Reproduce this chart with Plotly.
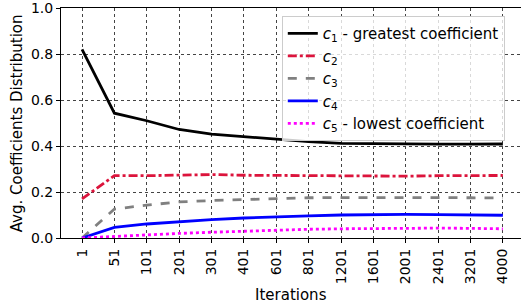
import plotly.graph_objects as go

iterations = ["1", "51", "101", "201", "301", "401", "601", "801", "1201", "1601", "2001", "2401", "3201", "4000"]
c1 = [0.82, 0.543, 0.51, 0.472, 0.452, 0.44, 0.429, 0.419, 0.412, 0.41, 0.407, 0.408, 0.408, 0.409]
c2 = [0.17, 0.271, 0.271, 0.272, 0.276, 0.273, 0.272, 0.269, 0.269, 0.267, 0.269, 0.271, 0.271, 0.272]
c3 = [0.0, 0.126, 0.143, 0.157, 0.163, 0.168, 0.172, 0.175, 0.176, 0.177, 0.177, 0.176, 0.175, 0.174]
c4 = [0.0, 0.046, 0.061, 0.072, 0.08, 0.087, 0.093, 0.096, 0.1, 0.103, 0.103, 0.102, 0.101, 0.099]
c5 = [0.0, 0.007, 0.015, 0.02, 0.025, 0.03, 0.035, 0.038, 0.04, 0.042, 0.043, 0.043, 0.042, 0.04]

names = ["<i>c</i><sub>1</sub> - greatest coefficient",
         "<i>c</i><sub>2</sub>",
         "<i>c</i><sub>3</sub>",
         "<i>c</i><sub>4</sub>",
         "<i>c</i><sub>5</sub> - lowest coefficient"]
series = [c1, c2, c3, c4, c5]
colors = ["black", "crimson", "grey", "blue", "magenta"]
dashes = ["solid", "dashdot", "dash", "solid", "dot"]

fig = go.Figure()
for n, s, c, d in zip(names, series, colors, dashes):
    fig.add_trace(go.Scatter(x=iterations, y=s, mode="lines", name=n,
                             line=dict(color=c, width=2.8, dash=d)))

font = "DejaVu Sans"
fig.update_layout(
    width=521, height=303,
    margin=dict(l=61, r=0, t=8, b=65, autoexpand=False),
    plot_bgcolor="white", paper_bgcolor="white",
    font=dict(family=font, size=14, color="black"),
    showlegend=True,
    legend=dict(x=0.48, y=0.965, xanchor="left", yanchor="top",
                bgcolor="rgba(255,255,255,0.8)", bordercolor="#cccccc", borderwidth=1,
                font=dict(size=15, family=font), tracegroupgap=0),
    annotations=[
        dict(text="Iterations", xref="paper", yref="paper", x=0.5, y=-0.247,
             xanchor="center", yanchor="middle", showarrow=False, font=dict(size=15)),
        dict(text="Avg. Coefficients Distribution", xref="paper", yref="paper",
             x=-0.095, y=0.5, xanchor="center", yanchor="middle", textangle=-90,
             showarrow=False, font=dict(size=15)),
    ],
)
fig.update_xaxes(
    type="category", range=[-0.65, 13.56], automargin=False,
    showline=True, linecolor="black", linewidth=1, mirror=True,
    ticks="outside", ticklen=4, tickcolor="black", tickangle=-90,
    showgrid=True, gridcolor="#444444", griddash="dot", gridwidth=0.8,
    tickfont=dict(size=14),
)
fig.update_yaxes(
    range=[0, 1.0005], automargin=False,
    tickvals=[0, 0.2, 0.4, 0.6, 0.8, 1.0],
    ticktext=["0.0", "0.2", "0.4", "0.6", "0.8", "1.0"],
    showline=True, linecolor="black", linewidth=1,
    ticks="outside", ticklen=4, tickcolor="black",
    showgrid=True, gridcolor="#444444", griddash="dot", gridwidth=0.8,
    zeroline=False,
    tickfont=dict(size=14),
)
fig.write_html("out.html", config={"displayModeBar": False},
               post_script="document.body.style.margin='0';")
